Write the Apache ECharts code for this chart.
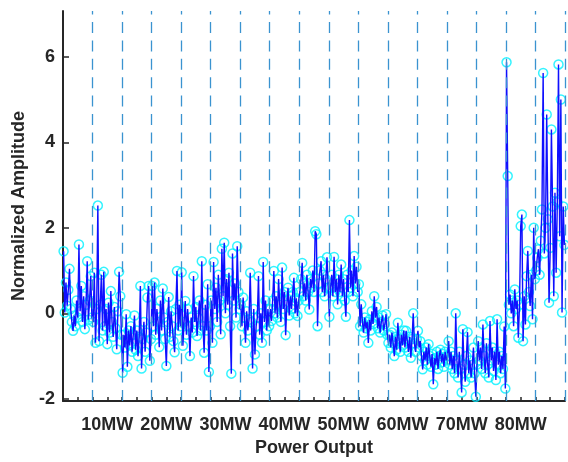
<!DOCTYPE html>
<html>
<head>
<meta charset="utf-8">
<script src="https://cdn.jsdelivr.net/npm/echarts@6/dist/echarts.min.js"></script>
<style>html,body{margin:0;padding:0;background:#fff;}#c{width:568px;height:462px;}</style>
</head>
<body>
<div id="c"></div>
<script>
// samples per power segment
const N = 25;
// power levels of the segments (MW)
const powerLevels = [5,10,15,20,25,30,35,40,45,50,55,60,65,70,75,80,85];
// x tick labels (shown at every other segment centre)
const tickLabels = ['10MW','20MW','30MW','40MW','50MW','60MW','70MW','80MW'];
// y tick values
const yTicks = [-2,0,2,4,6];

// normalized amplitude, one array per segment
const seg05 = [1.45,0.02,0.72,0.18,0.55,1.04,0.1,-0.2,-0.41,-0.05,-0.3,0.3,-0.1,1.61,0.05,0.64,-0.2,0.4,-0.37,0.2,1.22,-0.15,0.3,0.87,-0.1];
const seg10 = [-0.2,0.95,-0.69,0.1,2.52,-0.65,0.2,0.9,-0.4,0.97,-0.3,0.1,-0.72,0.25,-0.45,0.52,-0.2,-0.55,0.15,-0.35,-0.84,0.05,0.97,0.4,-0.5];
const seg15 = [-1.39,-0.5,-0.8,-0.02,-1.25,-0.4,-0.75,-0.3,-0.9,-0.5,-0.05,-0.85,-0.4,-1.0,-0.55,0.64,-1.29,-0.6,-0.2,-0.9,-0.45,0.37,0.64,-1.11,-0.6];
const seg20 = [0.64,-0.3,0.72,-0.5,0.1,-0.2,-0.79,0.3,-0.4,0.58,-0.1,-0.6,-1.23,-0.2,0.38,-0.55,0.05,-0.3,-0.65,-0.91,0.1,0.99,-0.4,0.2,-0.3];
const seg25 = [0.96,-0.76,-0.2,0.29,-0.5,0.1,-0.3,-1.0,-0.1,-0.45,0.87,-0.2,0.15,-0.53,-0.1,0.3,-0.4,1.22,-0.3,-0.92,0.2,-0.4,0.68,-1.37,-0.3];
const seg30 = [0.3,-0.69,1.2,0.1,0.6,-0.2,0.9,0.3,-0.49,1.51,0.4,1.65,0.0,0.8,0.2,0.95,-0.3,-1.41,1.4,0.3,0.7,-0.1,1.57,0.5,0.1];
const seg35 = [0.2,-0.3,0.37,-0.1,-0.69,0.05,-0.4,-0.15,0.95,-0.2,-1.29,0.1,-0.96,-0.3,-0.1,0.87,-0.5,0.0,-0.69,1.2,-0.2,0.3,-0.4,0.1,-0.3];
const seg40 = [0.1,-0.18,0.3,0.99,0.0,0.4,-0.1,0.8,0.2,-0.2,1.07,0.1,0.5,-0.51,0.2,0.6,-0.05,0.4,0.1,0.5,0.83,0.0,0.35,-0.06,0.3];
const seg45 = [0.5,0.8,1.18,0.4,0.7,0.3,0.9,0.5,0.09,0.8,0.6,1.0,0.5,1.92,1.85,-0.3,0.7,1.0,1.22,0.5,0.9,0.4,0.8,1.31,0.6];
const seg50 = [-0.08,0.6,0.9,0.4,1.32,0.5,0.8,0.21,0.9,0.5,1.14,0.4,0.8,0.3,-0.08,0.9,0.5,2.18,0.6,1.0,0.4,1.34,0.7,1.09,0.5];
const seg55 = [0.68,-0.3,0.21,-0.2,-0.45,-0.1,-0.35,-0.2,-0.69,-0.15,-0.4,0.05,-0.25,0.4,-0.1,0.15,-0.35,-0.1,-0.45,-0.2,-0.05,-0.4,-0.25,-0.02,-0.5];
const seg60 = [-0.69,-0.5,-0.8,-0.45,-0.7,-1.0,-0.55,-0.85,-0.22,-0.6,-0.9,-0.5,-0.75,-0.4,-0.8,-0.41,-0.65,-0.9,-0.55,-1.04,-0.6,0.0,-0.7,-0.9,-0.6];
const seg65 = [-0.41,-0.8,-0.65,-1.0,-1.31,-0.9,-1.1,-0.8,-1.2,-0.72,-1.0,-1.25,-0.95,-1.66,-1.05,-1.2,-0.9,-1.3,-1.0,-0.85,-1.15,-0.95,-1.25,-0.9,-1.1];
const seg70 = [-1.0,-0.65,-1.2,-0.9,-1.3,-1.0,-1.4,0.0,-1.1,-1.5,-0.9,-1.3,-1.85,-0.37,-1.2,-1.6,-1.0,-0.44,-1.4,-1.1,-1.5,-1.2,-0.8,-1.4,-1.95];
const seg75 = [-1.2,-0.65,-1.1,-0.8,-1.3,-0.26,-1.0,-1.4,-0.7,-1.2,-1.5,-0.18,-1.1,-0.8,-1.35,-0.9,-1.56,-0.14,-1.2,-0.9,-1.4,-1.0,-1.3,-0.31,-1.76];
const seg80 = [5.87,3.21,0.2,0.44,0.0,0.3,-0.3,0.56,0.1,0.3,-0.57,0.2,2.04,2.31,-0.65,0.4,-0.26,0.87,1.46,0.5,0.17,0.9,-0.14,2.0,0.8];
const seg85 = [1.0,1.3,1.5,0.9,1.7,2.43,5.62,1.4,2.0,4.65,2.2,0.25,1.53,4.3,2.5,0.4,2.82,0.95,2.6,5.82,1.8,5.0,0.02,2.5,1.6];

const segments = [seg05,seg10,seg15,seg20,seg25,seg30,seg35,seg40,seg45,seg50,seg55,seg60,seg65,seg70,seg75,seg80,seg85];
const amplitude = segments.flat();
const points = amplitude.map((v, i) => [i + 0.5, v]);
const boundaries = powerLevels.map((p, k) => (k + 1) * N);

const textColor = '#262626';
const font = '"Liberation Sans", Arial, Helvetica, sans-serif';

const chart = echarts.init(document.getElementById('c'), null, {renderer: 'canvas'});
chart.setOption({
  animation: false,
  backgroundColor: '#ffffff',
  grid: {left: 63, top: 11, width: 504, height: 392, containLabel: false},
  xAxis: {
    type: 'value',
    min: 0,
    max: powerLevels.length * N,
    interval: N / 2,
    name: 'Power Output',
    nameLocation: 'middle',
    nameGap: 38,
    nameTextStyle: {color: textColor, fontSize: 18, fontWeight: 'bold', fontFamily: font},
    axisLine: {show: true, onZero: false, lineStyle: {color: textColor, width: 2}},
    axisTick: {show: true, inside: true, length: 4, lineStyle: {color: textColor, width: 1.5}},
    axisLabel: {
      color: textColor, fontSize: 18, fontWeight: 'bold', fontFamily: font, margin: 15,
      showMinLabel: true, showMaxLabel: true,
      formatter: function (val) {
        const j = Math.round(val / (N / 2));
        if (j % 4 === 3) return tickLabels[(j - 3) / 4] || '';
        return '';
      }
    },
    splitLine: {show: false}
  },
  yAxis: {
    type: 'value',
    min: -2.05,
    max: 7.07,
    name: 'Normalized Amplitude',
    nameLocation: 'middle',
    nameGap: 26,
    nameTextStyle: {color: textColor, fontSize: 18, fontWeight: 'bold', fontFamily: font},
    axisLine: {show: true, onZero: false, lineStyle: {color: textColor, width: 2}},
    axisTick: {show: true, inside: true, length: 6, customValues: yTicks, lineStyle: {color: textColor, width: 1.5}},
    axisLabel: {customValues: yTicks, color: textColor, fontSize: 18, fontWeight: 'bold', fontFamily: font, margin: 8},
    splitLine: {show: false}
  },
  series: [
    {
      type: 'line',
      data: [],
      silent: true,
      markLine: {
        silent: true,
        symbol: ['none', 'none'],
        label: {show: false},
        lineStyle: {color: '#3a93d0', width: 1.3, type: [11, 7.4]},
        data: boundaries.map(b => ({xAxis: b}))
      }
    },
    {
      type: 'scatter',
      data: points,
      symbol: 'circle',
      symbolSize: 9,
      itemStyle: {color: 'rgba(0,0,0,0)', borderColor: '#00f0ff', borderWidth: 1.5},
      z: 2
    },
    {
      type: 'line',
      data: points,
      showSymbol: false,
      symbol: 'none',
      lineStyle: {color: '#0f0fff', width: 1.4},
      z: 3
    }
  ]
});
</script>
</body>
</html>
